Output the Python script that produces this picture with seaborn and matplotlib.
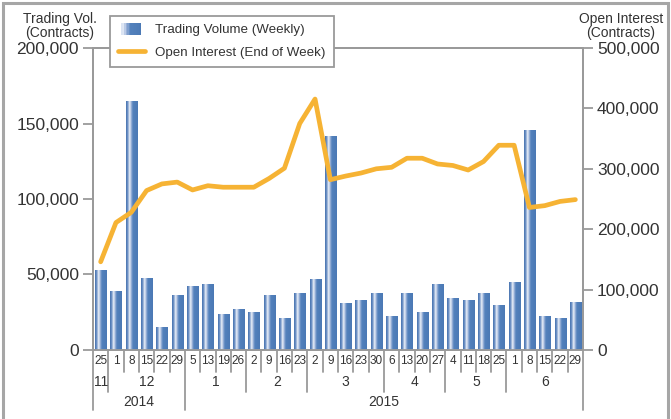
import numpy as np
import pandas as pd
import matplotlib
matplotlib.use('Agg')
import matplotlib.pyplot as plt
import matplotlib.transforms as mtransforms
from matplotlib.colors import LinearSegmentedColormap
from matplotlib.legend_handler import HandlerBase
from matplotlib.patches import Rectangle
from matplotlib.ticker import FuncFormatter, MultipleLocator
import seaborn as sns

# Weekly data, 2014-11-25 .. 2015-06-29
days = ['25', '1', '8', '15', '22', '29', '5', '13', '19', '26', '2', '9', '16', '23',
        '2', '9', '16', '23', '30', '6', '13', '20', '27', '4', '11', '18', '25',
        '1', '8', '15', '22', '29']
months = ['11', '12', '12', '12', '12', '12', '1', '1', '1', '1', '2', '2', '2', '2',
          '3', '3', '3', '3', '3', '4', '4', '4', '4', '5', '5', '5', '5',
          '6', '6', '6', '6', '6']
years = ['2014'] * 6 + ['2015'] * 26

volume = [53000, 39000, 165000, 48000, 15300, 36700, 42700, 44000, 24000, 27300,
          25300, 36700, 21300, 38000, 46700, 142000, 31300, 33300, 38000, 22700,
          38000, 25300, 44000, 34700, 33300, 38000, 30000, 45300, 145500, 22700,
          21300, 32000]
open_interest = [146000, 211000, 228000, 264000, 275000, 278000, 265000, 272000,
                 269500, 269500, 269500, 284000, 301000, 375000, 415500, 282000,
                 288000, 293000, 300000, 302500, 317500, 317500, 308000, 305500,
                 298000, 312000, 339000, 339000, 236000, 239000, 246000, 249000]

df = pd.DataFrame({'week': [f'{m}/{d}/{y}' for d, m, y in zip(days, months, years)],
                   'volume': volume, 'oi': open_interest})
df['pos'] = np.arange(len(df))

BLUE = '#4f7cb6'
ORANGE = '#f6b334'
GRAY = '#9a9a9a'
TXT = '#333333'

sns.set_style('white')
plt.rcParams['font.family'] = ['Liberation Sans', 'DejaVu Sans']
narrow = ['Liberation Sans Narrow', 'Liberation Sans', 'DejaVu Sans']

fig = plt.figure(figsize=(6.71, 4.19), dpi=100)
ax1 = fig.add_axes([0.1386, 0.1647, 0.7303, 0.7207])

sns.barplot(data=df, x='week', y='volume', color=BLUE, width=0.72, saturation=1,
            ax=ax1, zorder=2)

# gradient fill on every bar (light stripe left of centre)
cmap = LinearSegmentedColormap.from_list(
    'bar', [(0.0, '#4673af'), (0.14, '#6f92c6'), (0.3, '#f0f4fb'),
            (0.44, '#98b0d8'), (0.58, '#5381bc'), (1.0, '#4b79b5')])
grad = np.linspace(0, 1, 64).reshape(1, -1)
for p in list(ax1.patches):
    x0, y0, w, h = p.get_x(), p.get_y(), p.get_width(), p.get_height()
    im = ax1.imshow(grad, cmap=cmap, aspect='auto', interpolation='bilinear',
                    extent=(x0, x0 + w, y0, y0 + h), zorder=3)
    im.set_clip_path(p)

ax1.set_xlim(-0.5, len(df) - 0.5)
ax1.set_ylim(0, 200000)
ax1.yaxis.set_major_locator(MultipleLocator(50000))
ax1.yaxis.set_major_formatter(FuncFormatter(lambda v, _: f'{int(v):,}'))
ax1.set_xticks([])
ax1.set_xlabel('')
ax1.set_ylabel('')

ax2 = ax1.twinx()
sns.lineplot(data=df, x='pos', y='oi', color=ORANGE, linewidth=3.4, ax=ax2,
             solid_joinstyle='round', solid_capstyle='round')
ax2.set_ylim(0, 500000)
ax2.set_xlim(-0.5, len(df) - 0.5)
ax2.yaxis.set_major_locator(MultipleLocator(100000))
ax2.yaxis.set_major_formatter(FuncFormatter(lambda v, _: f'{int(v):,}'))
ax2.set_xticks([])
ax2.set_xlabel('')
ax2.set_ylabel('')

for ax in (ax1, ax2):
    for s in ax.spines.values():
        s.set_color(GRAY)
        s.set_linewidth(1.3)
    ax.tick_params(axis='y', direction='out', length=7, width=1.3, color=GRAY,
                   labelsize=12.5, labelcolor=TXT, pad=3)
ax1.tick_params(axis='y', left=True)
ax2.tick_params(axis='y', right=True)

# axis titles
fig.text(0.089, 0.954, 'Trading Vol.', ha='center', va='center', fontsize=10, color=TXT)
fig.text(0.089, 0.922, '(Contracts)', ha='center', va='center', fontsize=10, color=TXT)
fig.text(0.925, 0.954, 'Open Interest', ha='center', va='center', fontsize=10, color=TXT)
fig.text(0.925, 0.922, '(Contracts)', ha='center', va='center', fontsize=10, color=TXT)

# hierarchical category axis below the plot
tr = mtransforms.blended_transform_factory(ax1.transData, ax1.transAxes)
line_kw = dict(color=GRAY, lw=1.3, transform=tr, clip_on=False)
n = len(df)
for i in range(n):
    ax1.text(i, -0.037, days[i], ha='center', va='center', fontsize=8.5,
             family=narrow, color=TXT, transform=tr)
for i in range(1, n):
    if years[i] != years[i - 1]:
        depth = -0.199
    elif months[i] != months[i - 1]:
        depth = -0.139
    else:
        depth = -0.073
    ax1.plot([i - 0.5, i - 0.5], [0, depth], **line_kw)
for edge in (-0.5, n - 0.5):
    ax1.plot([edge, edge], [0, -0.199], **line_kw)

def groups(labels):
    out, start = [], 0
    for i in range(1, len(labels) + 1):
        if i == len(labels) or labels[i] != labels[start]:
            out.append((labels[start], start, i - 1))
            start = i
    return out

month_keys = [f'{y}-{m}' for y, m in zip(years, months)]
for key, a, b in groups(month_keys):
    ax1.text((a + b) / 2, -0.106, key.split('-')[1], ha='center', va='center',
             fontsize=10, family=narrow, color=TXT, transform=tr)
for key, a, b in groups(years):
    ax1.text((a + b) / 2, -0.172, key, ha='center', va='center', fontsize=10,
             family=narrow, color=TXT, transform=tr)


class GradHandler(HandlerBase):
    def create_artists(self, legend, orig, xd, yd, w, h, fontsize, trans):
        k = 14
        ww = w * 0.75
        x0 = xd + (w - ww) / 2
        return [Rectangle((x0 + ww * j / k, yd - 1), ww / k, h + 2,
                          facecolor=cmap(0.25 + 0.75 * (j + 0.5) / k),
                          edgecolor='none', transform=trans) for j in range(k)]


bar_handle = Rectangle((0, 0), 1, 1)
line_handle = ax2.lines[0]
leg = fig.legend([bar_handle, line_handle],
                 ['Trading Volume (Weekly)', 'Open Interest (End of Week)'],
                 handler_map={Rectangle: GradHandler()},
                 loc='upper left', bbox_to_anchor=(0.164, 0.962), fontsize=9.6,
                 frameon=True, fancybox=False, framealpha=1, edgecolor=GRAY,
                 handlelength=2.0, handletextpad=0.8, labelspacing=0.75,
                 borderpad=0.6, borderaxespad=0)
leg.get_frame().set_linewidth(1.3)
for t in leg.get_texts():
    t.set_color(TXT)

# outer frame
fig.patches.append(Rectangle((0.005, -0.02), 0.99, 1.013, transform=fig.transFigure,
                             fill=False, edgecolor='#a6a6a6', lw=2.2))

fig.savefig('out.png', dpi=100)
